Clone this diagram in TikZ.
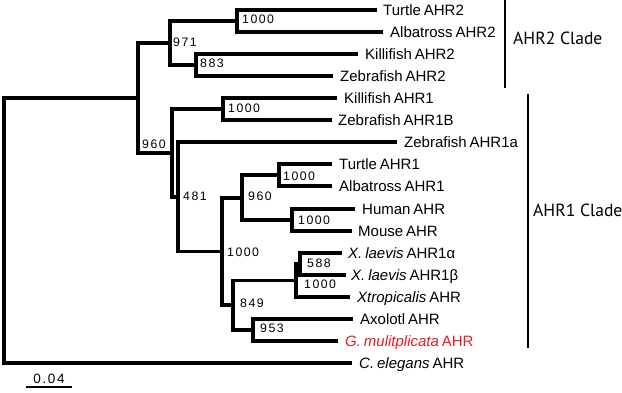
\documentclass[tikz,border=0pt]{standalone}
\usepackage{fontspec}
\setmainfont{Liberation Sans}
\newfontfamily\leaffont[WordSpace=0.7]{Liberation Sans}
\newfontfamily\bsfont[LetterSpace=12]{Liberation Sans}
\newfontfamily\cladefont{PT Sans}
\definecolor{gmred}{RGB}{225,30,35}
\begin{document}
\begin{tikzpicture}[x=1pt,y=-1pt,
  branch/.style={line width=3.8pt, line join=miter},
  leaf/.style={anchor=base west, inner sep=0pt, font=\leaffont\fontsize{15}{17}\selectfont},
  boot/.style={anchor=base west, inner sep=0pt, font=\bsfont\fontsize{12.3}{14}\selectfont},
  clade/.style={anchor=base west, inner sep=0pt, font=\cladefont\fontsize{17.6}{20}\selectfont},
  thinbar/.style={line width=1.3pt}]
\useasboundingbox (0,0) rectangle (622,392);
% leaf ends
\coordinate (l0) at (377,10);
\coordinate (l1) at (383,32);
\coordinate (l2) at (358,54);
\coordinate (l3) at (333,76);
\coordinate (l4) at (337,98);
\coordinate (l5) at (332,120);
\coordinate (l6) at (397,142);
\coordinate (l7) at (332,164);
\coordinate (l8) at (332,186);
\coordinate (l9) at (355,209);
\coordinate (l10) at (352,231);
\coordinate (l11) at (342,253);
\coordinate (l12) at (346,275);
\coordinate (l13) at (350,297);
\coordinate (l14) at (353,319);
\coordinate (l15) at (338,341);
\coordinate (l16) at (352,363);
% internal nodes
\coordinate (a1) at (237,21);
\coordinate (a2) at (196,65);
\coordinate (a3) at (170,43);
\coordinate (b1) at (223,109);
\coordinate (c1) at (279,175);
\coordinate (c2) at (292,220);
\coordinate (c3) at (242,198);
\coordinate (d1) at (300,264);
\coordinate (d2) at (296,280.5);
\coordinate (d3) at (253,330);
\coordinate (d4) at (233,305);
\coordinate (e1) at (222,251.5);
\coordinate (e2) at (178,197);
\coordinate (e3) at (172,153);
\coordinate (f) at (138,98);
\coordinate (root) at (4,230.5);
% branches
\draw[branch] (root) |- (f);
\draw[branch] (root) |- (l16);
\draw[branch] (f) |- (a3);
\draw[branch] (f) |- (e3);
\draw[branch] (a3) |- (a1);
\draw[branch] (a3) |- (a2);
\draw[branch] (a1) |- (l0);
\draw[branch] (a1) |- (l1);
\draw[branch] (a2) |- (l2);
\draw[branch] (a2) |- (l3);
\draw[branch] (e3) |- (b1);
\draw[branch] (e3) |- (e2);
\draw[branch] (b1) |- (l4);
\draw[branch] (b1) |- (l5);
\draw[branch] (e2) |- (l6);
\draw[branch] (e2) |- (e1);
\draw[branch] (e1) |- (c3);
\draw[branch] (e1) |- (d4);
\draw[branch] (c3) |- (c1);
\draw[branch] (c3) |- (c2);
\draw[branch] (c1) |- (l7);
\draw[branch] (c1) |- (l8);
\draw[branch] (c2) |- (l9);
\draw[branch] (c2) |- (l10);
\draw[branch] (d4) |- (d2);
\draw[branch] (d4) |- (d3);
\draw[branch] (d2) |- (d1);
\draw[branch] (d2) |- (l13);
\draw[branch] (d1) |- (l11);
\draw[branch] (d1) |- (l12);
\draw[branch] (d3) |- (l14);
\draw[branch] (d3) |- (l15);
% leaf labels
\node[leaf] (t0) at (383,15.4) {Turtle AHR2};
\node[leaf] (t1) at (390,37.4) {Albatross AHR2};
\node[leaf] (t2) at (365,59.4) {Killifish AHR2};
\node[leaf] (t3) at (340,81.4) {Zebrafish AHR2};
\node[leaf] (t4) at (344,103.4) {Killifish AHR1};
\node[leaf] (t5) at (338,125.4) {Zebrafish AHR1B};
\node[leaf] (t6) at (404,147.4) {Zebrafish AHR1a};
\node[leaf] (t7) at (339,169.4) {Turtle AHR1};
\node[leaf] (t8) at (339,191.4) {Albatross AHR1};
\node[leaf] (t9) at (362,214.4) {Human AHR};
\node[leaf] (t10) at (358,236.4) {Mouse AHR};
\node[leaf] (t11) at (348,258.4) {\textit{X. laevis} AHR1α};
\node[leaf] (t12) at (351,280.4) {\textit{X. laevis} AHR1β};
\node[leaf] (t13) at (357,302.4) {\textit{Xtropicalis} AHR};
\node[leaf] (t14) at (360,324.4) {Axolotl AHR};
\node[leaf, text=gmred] (t15) at (345,346.4) {\textit{G. mulitplicata} AHR};
\node[leaf] (t16) at (359,368.4) {\textit{C. elegans} AHR};
% bootstrap values
\node[boot] (s1) at (242,23.4) {1000};
\node[boot] (s2) at (173,46.4) {971};
\node[boot] (s3) at (200,67.4) {883};
\node[boot] (s4) at (228,112.4) {1000};
\node[boot] (s5) at (142,148.4) {960};
\node[boot] (s6) at (183,200.4) {481};
\node[boot] (s7) at (283,180.4) {1000};
\node[boot] (s8) at (248,200.4) {960};
\node[boot] (s9) at (298,224.4) {1000};
\node[boot] (s10) at (227,256.4) {1000};
\node[boot] (s11) at (307,267.4) {588};
\node[boot] (s12) at (304,288.4) {1000};
\node[boot] (s13) at (240,307.4) {849};
\node[boot] (s14) at (260,332.4) {953};
% clade bars
\coordinate (ca1) at (505,0);
\coordinate (ca2) at (505,88);
\coordinate (cb1) at (528,94);
\coordinate (cb2) at (528,348);
\draw[thinbar] (ca1) -- (ca2);
\draw[thinbar] (cb1) -- (cb2);
\node[clade] (k1) at (513,44.8) {AHR2 Clade};
\node[clade] (k2) at (533,216.8) {AHR1 Clade};
% scale bar
\coordinate (sb1) at (26,387);
\coordinate (sb2) at (72,387);
\draw[thinbar] (sb1) -- (sb2);
\node[boot, anchor=base, font=\bsfont\fontsize{13.5}{15}\selectfont] (sc) at (49,383) {0.04};
\end{tikzpicture}
\end{document}
